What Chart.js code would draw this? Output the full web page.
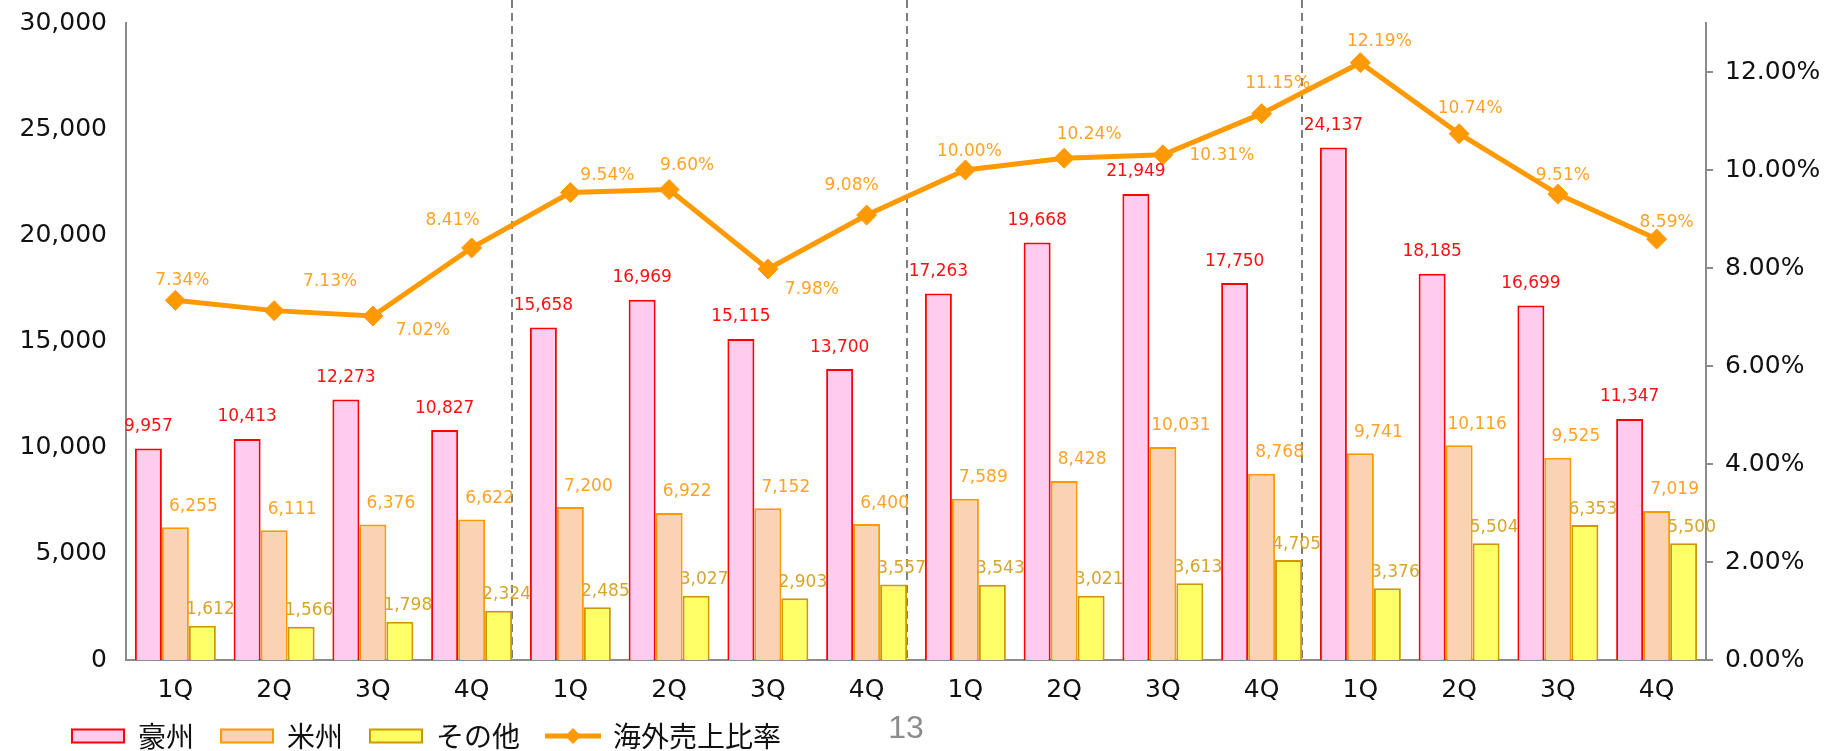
<!DOCTYPE html>
<html>
<head>
<meta charset="utf-8">
<script src="https://cdn.jsdelivr.net/npm/chart.js@4.4.1/dist/chart.umd.min.js"></script>
<style>
  html, body { margin: 0; padding: 0; background: #fff; }
  #myChart { display: block; }
</style>
</head>
<body>
<canvas id="myChart" width="1825" height="751"></canvas>
<script>
// quarters, 4 years
const quarters = ["1Q", "2Q", "3Q", "4Q", "1Q", "2Q", "3Q", "4Q", "1Q", "2Q", "3Q", "4Q", "1Q", "2Q", "3Q", "4Q"]

const australia = [9957, 10413, 12273, 10827, 15658, 16969, 15115, 13700, 17263, 19668, 21949, 17750, 24137, 18185, 16699, 11347]
const americas = [6255, 6111, 6376, 6622, 7200, 6922, 7152, 6400, 7589, 8428, 10031, 8768, 9741, 10116, 9525, 7019]
const others = [1612, 1566, 1798, 2324, 2485, 3027, 2903, 3557, 3543, 3021, 3613, 4705, 3376, 5504, 6353, 5500]
const overseasRatio = [7.34, 7.13, 7.02, 8.41, 9.54, 9.60, 7.98, 9.08, 10.00, 10.24, 10.31, 11.15, 12.19, 10.74, 9.51, 8.59]

const seriesNames = ["豪州", "米州", "その他", "海外売上比率"]

// label nudges for the % labels (px, from point centre)
const ratioLabelNudge = [[7, -20], [56, -29], [50, 15], [-19, -27], [37, -17], [18, -24], [44, 21], [-15, -30],
                         [4, -18], [25, -24], [59, 1], [16, -30], [19, -21], [11, -25], [5, -18], [10, -17]]

const numFont = '"DejaVu Sans", "Noto Sans CJK JP", sans-serif'
const jpFont = '"Noto Sans CJK JP", sans-serif'

// legend icon for the line series
const lineIcon = document.createElement("canvas")
lineIcon.width = 56
lineIcon.height = 20
const ic = lineIcon.getContext("2d")
ic.strokeStyle = "#FF9900"
ic.lineWidth = 5
ic.beginPath()
ic.moveTo(0, 10)
ic.lineTo(56, 10)
ic.stroke()
ic.fillStyle = "#FF9900"
ic.beginPath()
ic.moveTo(28, 2); ic.lineTo(36, 10); ic.lineTo(28, 18); ic.lineTo(20, 10)
ic.closePath()
ic.fill()

const yearDividers = {
  id: "yearDividers",
  beforeDatasetsDraw(chart) {
    const meta = chart.getDatasetMeta(2)
    const ctx = chart.ctx
    ctx.save()
    ctx.strokeStyle = "#7f7f7f"
    ctx.lineWidth = 2
    ctx.setLineDash([8, 5])
    meta.data.forEach((el, i) => {
      if ((i + 1) % 4 === 0 && i < meta.data.length - 1) {
        const x = Math.round(el.x + el.width / 2)
        ctx.beginPath()
        ctx.moveTo(x, 0)
        ctx.lineTo(x, chart.chartArea.bottom)
        ctx.stroke()
      }
    })
    ctx.restore()
  }
}

const valueLabels = {
  id: "valueLabels",
  afterDatasetsDraw(chart) {
    const ctx = chart.ctx
    ctx.save()
    ctx.font = "17px " + numFont
    ctx.textAlign = "center"
    ctx.textBaseline = "middle"
    chart.data.datasets.forEach((ds, di) => {
      const meta = chart.getDatasetMeta(di)
      meta.data.forEach((el, i) => {
        let dx = ds.labelDx, dy = ds.labelDy
        if (ds.type === "line") {
          dx = ratioLabelNudge[i][0]
          dy = ratioLabelNudge[i][1]
        }
        ctx.fillStyle = ds.labelColor
        ctx.fillText(ds.labelFormat(ds.data[i]), el.x + dx, el.y + dy)
      })
    })
    ctx.restore()
  }
}

const pageNumber = {
  id: "pageNumber",
  afterLayout(chart) {
    // legend sits left-aligned, a bit higher than the default
    chart.legend.left += 45
    chart.legend.top -= 14
  },
  afterDraw(chart) {
    const ctx = chart.ctx
    ctx.save()
    ctx.font = '32px "Liberation Sans", sans-serif'
    ctx.fillStyle = "#8c8c8c"
    ctx.textAlign = "center"
    ctx.textBaseline = "middle"
    ctx.fillText("13", 906, 729)
    ctx.restore()
  }
}

const fmtNum = (v) => v.toLocaleString("en-US")
const fmtPct = (v) => v.toFixed(2) + "%"

// y axes: fixed width, no extra room above the top tick
const fitY = (w) => (s) => {
  s.width = w
  s.paddingTop = 0
  s.paddingBottom = 0
}

let chart = document.getElementById("myChart")
new Chart(chart, {
  type: "bar",
  data: {
    labels: quarters,
    datasets: [
      {
        label: seriesNames[0],
        data: australia,
        backgroundColor: "#FFCCF0",
        borderColor: "#FF0000",
        borderWidth: 2,
        yAxisID: "y",
        labelColor: "#FF1010", labelDx: 0, labelDy: -22, labelFormat: fmtNum
      },
      {
        label: seriesNames[1],
        data: americas,
        backgroundColor: "#FAD3B4",
        borderColor: "#FF9900",
        borderWidth: 2,
        yAxisID: "y",
        labelColor: "#FFA324", labelDx: 18, labelDy: -21, labelFormat: fmtNum
      },
      {
        label: seriesNames[2],
        data: others,
        backgroundColor: "#FFFF66",
        borderColor: "#CC9900",
        borderWidth: 2,
        yAxisID: "y",
        labelColor: "#D6A62A", labelDx: 8, labelDy: -16, labelFormat: fmtNum
      },
      {
        type: "line",
        label: seriesNames[3],
        data: overseasRatio,
        borderColor: "#FF9900",
        backgroundColor: "#FF9900",
        borderWidth: 5,
        pointStyle: "rectRot",
        pointRadius: 10,
        pointBorderWidth: 1,
        tension: 0,
        fill: false,
        yAxisID: "y1",
        order: -1,
        labelColor: "#FFA324", labelFormat: fmtPct
      }
    ]
  },
  options: {
    responsive: false,
    animation: false,
    devicePixelRatio: 1,
    layout: { padding: { top: 23, left: 0, right: 0, bottom: 0 } },
    datasets: {
      bar: { categoryPercentage: 0.82, barPercentage: 1.0 }
    },
    scales: {
      x: {
        grid: { display: false, drawTicks: false },
        border: { display: true, color: "#8c8c8c", width: 2 },
        ticks: { font: { family: numFont, size: 25 }, color: "#111", padding: 15 },
        afterFit: (s) => { s.height = 49 }
      },
      y: {
        position: "left",
        min: 0,
        max: 30000,
        grid: { display: false, drawTicks: false },
        border: { display: true, color: "#8c8c8c", width: 2 },
        ticks: { stepSize: 5000, callback: (v) => fmtNum(v), font: { family: numFont, size: 25 }, color: "#111", padding: 19 },
        afterFit: fitY(126)
      },
      y1: {
        position: "right",
        min: 0,
        max: 13,
        grid: { drawOnChartArea: false, drawTicks: true, tickLength: 7, color: "#8c8c8c", lineWidth: 2 },
        border: { display: true, color: "#8c8c8c", width: 2 },
        ticks: { stepSize: 2, callback: (v) => fmtPct(v), font: { family: numFont, size: 25 }, color: "#111", padding: 12 },
        afterBuildTicks: (s) => { s.ticks = s.ticks.filter((t) => t.value <= 12) },
        afterFit: fitY(119)
      }
    },
    plugins: {
      legend: {
        position: "bottom",
        align: "start",
        maxHeight: 42,
        labels: {
          usePointStyle: true,
          pointStyleWidth: 52,
          boxHeight: 13,
          padding: 27,
          color: "#111",
          font: { family: jpFont, size: 28 },
          sort: (a, b) => a.datasetIndex - b.datasetIndex,
          generateLabels: (c) => {
            const items = Chart.defaults.plugins.legend.labels.generateLabels(c)
            items.forEach((it) => {
              if (c.data.datasets[it.datasetIndex].type === "line") {
                it.pointStyle = lineIcon
              } else {
                it.pointStyle = "rect"
              }
            })
            return items
          }
        }
      },
      tooltip: { enabled: false }
    }
  },
  plugins: [yearDividers, valueLabels, pageNumber]
})
</script>
</body>
</html>
